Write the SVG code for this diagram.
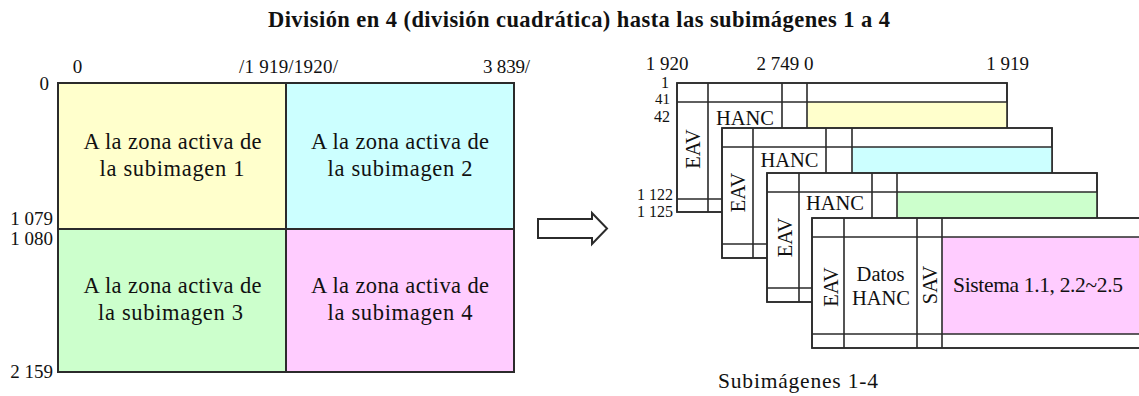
<svg xmlns="http://www.w3.org/2000/svg" width="1139" height="396" viewBox="0 0 1139 396">
<style>
text{font-family:"Liberation Serif","Times New Roman",serif;fill:#111}
.t{font-size:22.5px;font-weight:bold}
.lbl{font-size:19px}
.sm{font-size:15px}
.cell{font-size:22.5px}
.fr{font-size:20.5px}
.cap{font-size:21.5px}
.ln{stroke:#2b2b2b;stroke-width:2;fill:none}
.fl{stroke:#2b2b2b;stroke-width:1.6;fill:none}
.box{stroke:#2b2b2b;stroke-width:1.6;fill:#fff}
</style>
<rect width="1139" height="396" fill="#fff"/>
<text class="t" x="579" y="27" text-anchor="middle" textLength="622">División en 4 (división cuadrática) hasta las subimágenes 1 a 4</text>

<g id="grid">
<rect x="58" y="83" width="228" height="146" fill="#FFFFCC"/>
<rect x="286" y="83" width="228" height="146" fill="#CCFFFF"/>
<rect x="58" y="229" width="228" height="143" fill="#CCFFCC"/>
<rect x="286" y="229" width="228" height="143" fill="#FFCCFF"/>
<rect x="58" y="83" width="456" height="289" class="ln"/>
<line x1="286" y1="83" x2="286" y2="372" class="ln"/>
<line x1="58" y1="229" x2="514" y2="229" class="ln"/>
</g>
<g id="grid-labels">
<text class="lbl" x="77.5" y="73" text-anchor="middle">0</text>
<text class="lbl" x="288.5" y="73" text-anchor="middle" textLength="99">/1 919/1920/</text>
<text class="lbl" x="483" y="73" textLength="47">3 839/</text>
<text class="lbl" x="49" y="90" text-anchor="end">0</text>
<text class="lbl" x="53" y="225" text-anchor="end">1 079</text>
<text class="lbl" x="53" y="245" text-anchor="end">1 080</text>
<text class="lbl" x="53" y="378" text-anchor="end">2 159</text>
</g>
<g id="sub1">
<text class="cell" x="172.5" y="149" text-anchor="middle" textLength="178">A la zona activa de</text>
<text class="cell" x="172" y="176" text-anchor="middle" textLength="145">la subimagen 1</text>
</g>
<g id="sub2">
<text class="cell" x="400" y="149" text-anchor="middle" textLength="178">A la zona activa de</text>
<text class="cell" x="400" y="176" text-anchor="middle" textLength="145">la subimagen 2</text>
</g>
<g id="sub3">
<text class="cell" x="172.5" y="293" text-anchor="middle" textLength="178">A la zona activa de</text>
<text class="cell" x="170.5" y="320" text-anchor="middle" textLength="145">la subimagen 3</text>
</g>
<g id="sub4">
<text class="cell" x="400" y="293" text-anchor="middle" textLength="178">A la zona activa de</text>
<text class="cell" x="400" y="320" text-anchor="middle" textLength="145">la subimagen 4</text>
</g>

<g id="connectors">
<polygon points="538,219 592,219 592,213 607,228.5 592,244 592,238 538,238" fill="#fff" stroke="#2b2b2b" stroke-width="2"/>
</g>

<g id="frame-labels">
<text class="lbl" x="667" y="70" text-anchor="middle">1 920</text>
<text class="lbl" x="785" y="70" text-anchor="middle">2 749 0</text>
<text class="lbl" x="1007.5" y="70" text-anchor="middle">1 919</text>
<text class="sm" x="669" y="88" text-anchor="end" style="font-size:16px">1</text>
<text class="sm" x="670" y="104" text-anchor="end">41</text>
<text class="sm" x="670" y="122" text-anchor="end" style="font-size:16px">42</text>
<text class="sm" x="673" y="200" text-anchor="end" style="font-size:16px">1 122</text>
<text class="sm" x="673" y="217" text-anchor="end" style="font-size:16px">1 125</text>
</g>

<g id="frame1">
<rect x="677" y="83" width="330" height="129" class="box"/>
<rect x="807" y="102" width="200" height="97" fill="#FFFFCC"/>
<path class="fl" d="M677 102H1007M677 199H1007M708 83V212M782 83V212M807 83V212M677 83H1007V212H677Z"/>
<text class="fr" x="745" y="125" text-anchor="middle">HANC</text>
<text class="fr" transform="translate(700,149) rotate(-90)" text-anchor="middle">EAV</text>
</g>
<g id="frame2">
<rect x="722" y="128" width="330" height="130" class="box"/>
<rect x="852" y="147" width="200" height="97" fill="#CCFFFF"/>
<path class="fl" d="M722 147H1052M722 244H1052M753 128V258M826 128V258M852 128V258M722 128H1052V258H722Z"/>
<text class="fr" x="789.5" y="167" text-anchor="middle">HANC</text>
<text class="fr" transform="translate(745,192.5) rotate(-90)" text-anchor="middle">EAV</text>
</g>
<g id="frame3">
<rect x="767" y="173" width="330" height="129" class="box"/>
<rect x="897" y="192" width="200" height="97" fill="#CCFFCC"/>
<path class="fl" d="M767 192H1097M767 288H1097M799 173V302M872 173V302M897 173V302M767 173H1097V302H767Z"/>
<text class="fr" x="835" y="210" text-anchor="middle">HANC</text>
<text class="fr" transform="translate(792,237.5) rotate(-90)" text-anchor="middle">EAV</text>
</g>
<g id="frame4">
<rect x="812" y="218" width="340" height="130" class="box"/>
<rect x="942" y="237" width="210" height="97" fill="#FFCCFF"/>
<path class="fl" d="M812 237H1152M812 334H1152M844 218V348M917 218V348M942 218V348M812 218H1152V348H812Z"/>
<text class="fr" transform="translate(838,287) rotate(-90)" text-anchor="middle">EAV</text>
<text class="fr" x="880.5" y="281" text-anchor="middle">Datos</text>
<text class="fr" x="881" y="305" text-anchor="middle">HANC</text>
<text class="fr" transform="translate(937,285) rotate(-90)" text-anchor="middle">SAV</text>
<text class="cap" x="953" y="292" textLength="170">Sistema 1.1, 2.2~2.5</text>
</g>
<text class="cap" x="718" y="388" textLength="160">Subimágenes 1-4</text>
</svg>
